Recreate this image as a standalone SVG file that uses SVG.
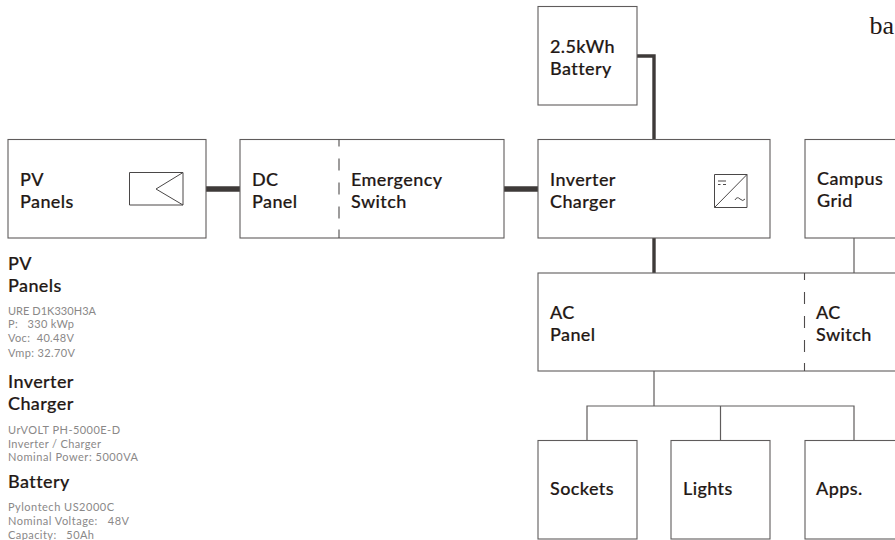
<svg xmlns="http://www.w3.org/2000/svg" width="895" height="540" viewBox="0 0 895 540">
<style>
.box{fill:#fff;stroke:#5f5c5c;stroke-width:1.1}
.t{font-family:"Lato","Liberation Sans",sans-serif;font-size:18px;font-weight:500;letter-spacing:.4px;fill:#231815;stroke:#231815;stroke-width:.2}
.s{font-family:"Lato","Liberation Sans",sans-serif;font-size:11px;fill:#8a8888}
.thin{fill:none;stroke:#5f5c5c;stroke-width:1.2}
.med{fill:none;stroke:#3e3a39;stroke-width:3.4}
.thick{fill:none;stroke:#3e3a39;stroke-width:5.5}
.dash{fill:none;stroke:#4f4c4c;stroke-width:1.1;stroke-dasharray:7 12 12 12 12 12 12 11 9}
.ic{fill:none;stroke:#4a4747;stroke-width:1}
</style>
<g id="connectors">
<path class="thick" d="M206 189H240"/>
<path class="thick" d="M504 189H538"/>
<path class="med" d="M637 56H654V139.500"/>
<path class="med" d="M654 238V273"/>
<path class="thin" d="M854 238V273"/>
<path class="thin" d="M654 371V406"/>
<path class="thin" d="M587 440.500V406H854V440.500"/>
<path class="thin" d="M720.500 406V440.500"/>
</g>
<g id="node-pv"><rect class="box" x="8" y="139.500" width="198" height="98.500"/>
<text class="t" x="20" y="186">PV</text><text class="t" x="20" y="208">Panels</text>
<path class="ic" d="M129.500 172.500H183V205H129.500ZM183 172.500L156 189L183 205"/></g>
<g id="node-dc"><rect class="box" x="240" y="139.500" width="264" height="98.500"/>
<path class="dash" d="M339 139.500V238"/>
<text class="t" x="252" y="186">DC</text><text class="t" x="252" y="208">Panel</text>
<text class="t" x="351" y="186">Emergency</text><text class="t" x="351" y="208">Switch</text></g>
<g id="node-battery"><rect class="box" x="538" y="6.500" width="99" height="98.500"/>
<text class="t" x="550" y="53">2.5kWh</text><text class="t" x="550" y="75">Battery</text></g>
<g id="node-inverter"><rect class="box" x="538" y="139.500" width="232" height="98.500"/>
<text class="t" x="550" y="186">Inverter</text><text class="t" x="550" y="208">Charger</text>
<path class="ic" d="M714.500 174.500H747V207.500H714.500ZM747 174.500L714.500 207.500M718 181H726M718 184.500H720.500M723 184.500H726M735 200Q737 196 740 199T745 199"/></g>
<g id="node-grid"><rect class="box" x="805" y="139.500" width="110" height="98.500"/>
<text class="t" x="817" y="185">Campus</text><text class="t" x="817" y="207">Grid</text></g>
<g id="node-ac"><rect class="box" x="538" y="273" width="377" height="98"/>
<path class="dash" d="M804.500 273V371"/>
<text class="t" x="550" y="319">AC</text><text class="t" x="550" y="341">Panel</text>
<text class="t" x="816" y="319">AC</text><text class="t" x="816" y="341">Switch</text></g>
<g id="node-sockets"><rect class="box" x="538" y="440.500" width="99" height="98.500"/><text class="t" x="550" y="495">Sockets</text></g>
<g id="node-lights"><rect class="box" x="671" y="440.500" width="99" height="98.500"/><text class="t" x="683" y="495">Lights</text></g>
<g id="node-apps"><rect class="box" x="805" y="440.500" width="110" height="98.500"/><text class="t" x="816" y="495">Apps.</text></g>
<g id="specs">
<text class="t" x="8" y="270">PV</text><text class="t" x="8" y="292">Panels</text>
<text class="s" x="8" y="315" textLength="88">URE D1K330H3A</text><text class="s" x="8" y="328" xml:space="preserve" textLength="66">P:   330 kWp</text><text class="s" x="8" y="342" xml:space="preserve" textLength="66">Voc:  40.48V</text><text class="s" x="8" y="357" textLength="67">Vmp: 32.70V</text>
<text class="t" x="8" y="388">Inverter</text><text class="t" x="8" y="410">Charger</text>
<text class="s" x="8" y="434" textLength="112">UrVOLT PH-5000E-D</text><text class="s" x="8" y="448" textLength="93">Inverter / Charger</text><text class="s" x="8" y="461" textLength="130">Nominal Power: 5000VA</text>
<text class="t" x="8" y="488">Battery</text>
<text class="s" x="8" y="511" textLength="106">Pylontech US2000C</text><text class="s" x="8" y="525" xml:space="preserve" textLength="121">Nominal Voltage:   48V</text><text class="s" x="8" y="539" xml:space="preserve" textLength="86">Capacity:   50Ah</text>
</g>
<text x="869.500" y="34" font-family="'Liberation Serif',serif" font-size="26" fill="#231815">ba</text>
</svg>
